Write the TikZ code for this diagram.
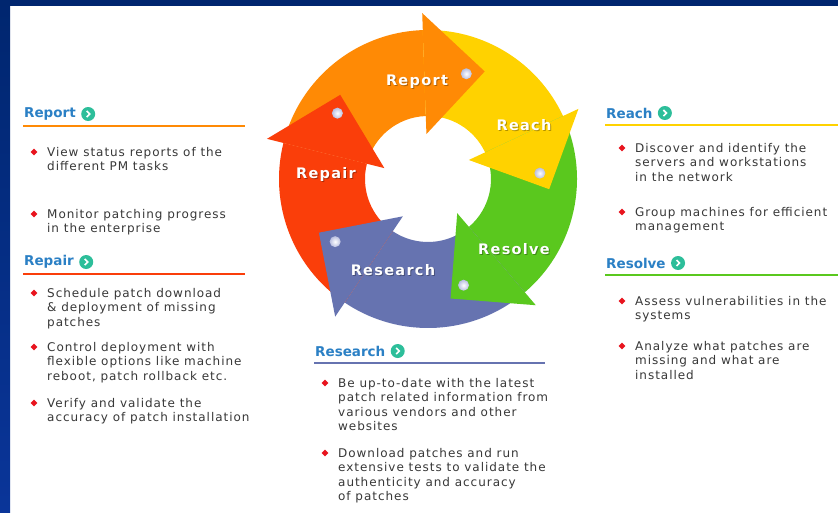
\documentclass[tikz,border=0pt]{standalone}
\usepackage{fontspec}
\usepackage{xcolor}
\usetikzlibrary{positioning,shapes.geometric}
\setmainfont{DejaVu Sans}
\newfontfamily\bodyfont[LetterSpace=8]{DejaVu Sans}
\newfontfamily\labelfont[LetterSpace=9]{DejaVu Sans}
\definecolor{frame}{HTML}{0A3599}
\definecolor{frametop}{HTML}{00266F}
\definecolor{reportc}{HTML}{FF8A05}
\definecolor{reachc}{HTML}{FFD200}
\definecolor{resolvec}{HTML}{5AC81E}
\definecolor{researchc}{HTML}{6673B0}
\definecolor{repairc}{HTML}{FA3E0A}
\definecolor{headblue}{HTML}{2B80C5}
\definecolor{goteal}{HTML}{2DBE9A}
\definecolor{bulred}{HTML}{E8141E}
\definecolor{bodygrey}{HTML}{383838}
\definecolor{dotrim}{HTML}{B8BEE0}

\tikzset{
  heading/.style={anchor=west, inner sep=0, text=headblue,
    font=\fontsize{13.5}{16}\selectfont\bfseries},
  goicon/.style={circle, fill=goteal, minimum size=14, inner sep=0,
    path picture={\draw[white, line width=1.6pt]
      ([xshift=-1.5pt, yshift=3pt]path picture bounding box.center)
      -- ++(3pt,-3pt) -- ++(-3pt,-3pt);}},
  bullet/.style={diamond, fill=bulred, minimum size=7, inner sep=0},
  itemtext/.style={anchor=north west, inner sep=0, align=left, text=bodygrey,
    font=\bodyfont\fontsize{12}{14.4}\selectfont},
  cyclabel/.style={text=white, inner sep=0,
    font=\labelfont\fontsize{14.5}{16}\selectfont\bfseries},
  cycshadow/.style={cyclabel, text=black, opacity=0.3}
}

% heading with its go icon and coloured rule
\newcommand\pmhead[6]{%
  \node[heading] (#1) at (#2,#3) {#4};
  \node[goicon, right=5pt of #1] (#1go) {};
  \draw[#5, line width=2] (#2-1,#3+12) -- (#6,#3+12);
}
% one bullet point
\newcommand\pmitem[4]{%
  \node[bullet] (#1dot) at (#2-13,#3) {};
  \node[itemtext] (#1) at (#2,#3-6) {\strut #4};
}
% white label on the wheel
\newcommand\cyclabel[4]{%
  \node[cycshadow] at (#2+1,#3+1) {#4};
  \node[cyclabel] (#1) at (#2,#3) {#4};
}

\begin{document}
\begin{tikzpicture}[x=1pt,y=-1pt]
  \useasboundingbox (0,0) rectangle (838,512);
  \fill[white] (0,0) rectangle (838,512);
  % blue frame, top and left
  \fill[frametop] (0,0) rectangle (838,6);
  \shade[top color=frametop, bottom color=frame] (0,0) rectangle (10,512);

  % the wheel: five ring pieces, then the heads on top
  \begin{scope}[shift={(428,179)}, yscale=-1]
    \foreach \col/\from/\to in {reportc/166/92, reachc/92/25,
        resolvec/25/-49.5, researchc/-49.5/-124, repairc/236/166}
      \fill[\col] (\from:63) arc[start angle=\from, end angle=\to, radius=63]
        -- (\to:149) arc[start angle=\to, end angle=\from, radius=149] -- cycle;
    \foreach \col/\a in {reportc/92, reachc/25, resolvec/-49.5,
        researchc/-124, repairc/166} {
      \fill[\col] (\a:45) -- (\a:166) -- (\a-29.8:121.6) -- cycle;
      \shade[inner color=white, outer color=dotrim] (\a-22:112) circle[radius=5.5];
    }
  \end{scope}

  \cyclabel{replab}{417}{82}{Report}
  \cyclabel{reachlab}{524}{125}{Reach}
  \cyclabel{reslab}{514}{249}{Resolve}
  \cyclabel{researchlab}{393}{270}{Research}
  \cyclabel{repairlab}{326}{174}{Repair}

  % left column
  \pmhead{report}{24}{114}{Report}{reportc}{245}
  \pmitem{rep1}{47}{152}{View status reports of the\\different PM tasks}
  \pmitem{rep2}{47}{214}{Monitor patching progress\\in the enterprise}

  \pmhead{repair}{24}{262}{Repair}{repairc}{245}
  \pmitem{rpr1}{47}{293}{Schedule patch download\\\& deployment of missing\\patches}
  \pmitem{rpr2}{47}{347}{Control deployment with\\flexible options like machine\\reboot, patch rollback etc.}
  \pmitem{rpr3}{47}{403}{Verify and validate the\\accuracy of patch installation}

  % right column
  \pmhead{reach}{606}{113}{Reach}{reachc}{838}
  \pmitem{rch1}{635}{148}{Discover and identify the\\servers and workstations\\in the network}
  \pmitem{rch2}{635}{212}{Group machines for efficient\\management}

  \pmhead{resolve}{606}{263}{Resolve}{resolvec}{838}
  \pmitem{rsv1}{635}{301}{Assess vulnerabilities in the\\systems}
  \pmitem{rsv2}{635}{346}{Analyze what patches are\\missing and what are\\installed}

  % under the wheel
  \pmhead{research}{315}{351}{Research}{researchc}{545}
  \pmitem{rsc1}{338}{383}{Be up-to-date with the latest\\patch related information from\\various vendors and other\\websites}
  \pmitem{rsc2}{338}{453}{Download patches and run\\extensive tests to validate the\\authenticity and accuracy\\of patches}
\end{tikzpicture}
\end{document}
